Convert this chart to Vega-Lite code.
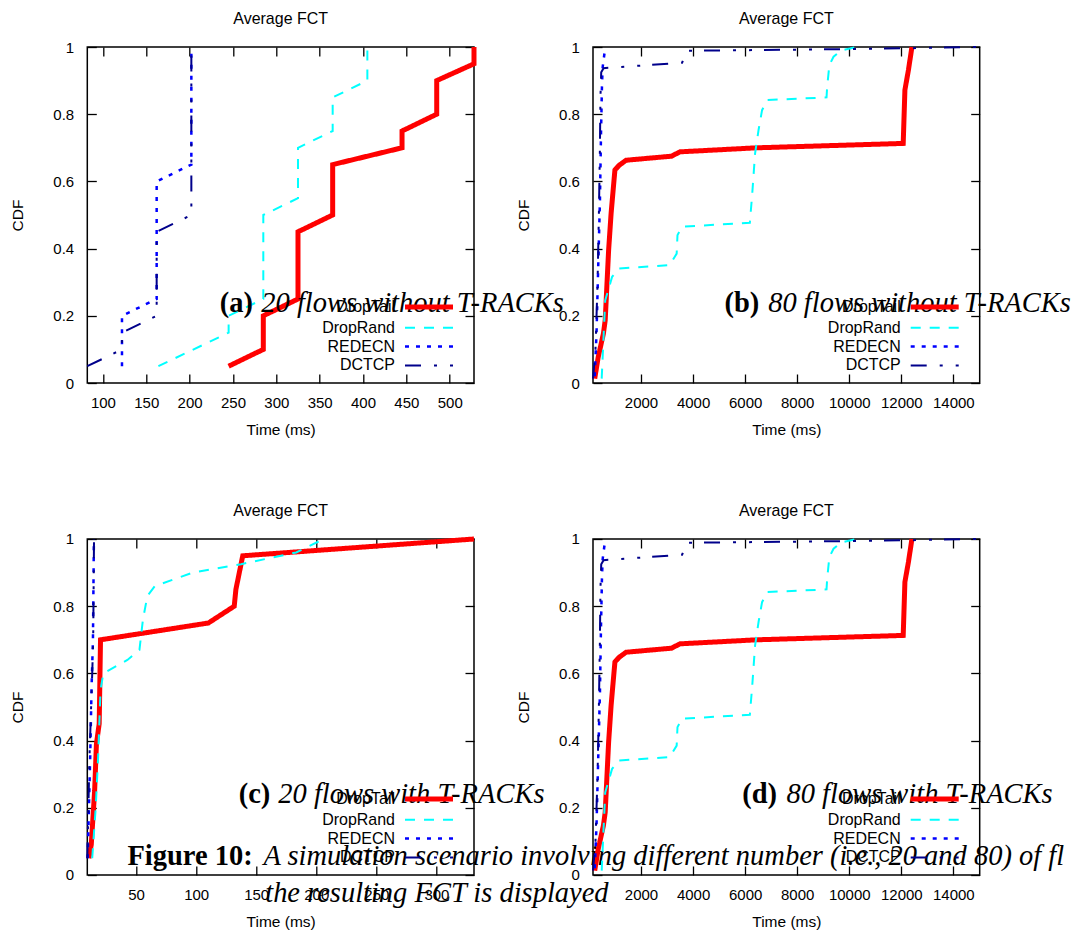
{
  "$schema": "https://vega.github.io/schema/vega-lite/v6.json",
  "padding": {"left": 9.3, "top": 10, "right": 0, "bottom": 0},
  "config": {
    "font": "Liberation Sans",
    "view": {"stroke": "#000", "strokeWidth": 1.5},
    "axis": {"domain": false, "grid": false, "tickColor": "#000", "tickWidth": 1.3, "tickSize": -9, "labelColor": "#000", "labelFont": "Liberation Sans", "labelFontSize": 15, "labelFlush": false, "labelOverlap": false, "titleFont": "Liberation Sans", "titleFontSize": 15.5, "titleFontWeight": "normal", "titleColor": "#000"},
    "axisBottom": {"labelPadding": 21.6, "titlePadding": 12},
    "axisLeft": {"labelPadding": 22.6, "titlePadding": 27},
    "title": {"font": "Liberation Sans", "fontSize": 16, "fontWeight": "normal", "color": "#000", "anchor": "middle", "baseline": "alphabetic", "offset": 10},
    "legend": {"orient": "none", "legendX": 333.7, "legendY": 252, "symbolType": "M-4.3636,0H4.3636", "symbolSize": 121, "symbolOffset": 0, "labelAlign": "right", "labelOffset": -42, "labelFontSize": 16, "labelFont": "Liberation Sans", "labelColor": "#000", "rowPadding": 2.8, "padding": 0}
  },
  "datasets": {
    "a": [
      {"series": "DropTail", "x": 245, "y": 0.05}, {"series": "DropTail", "x": 285, "y": 0.1}, {"series": "DropTail", "x": 285, "y": 0.2}, {"series": "DropTail", "x": 325, "y": 0.25}, {"series": "DropTail", "x": 325, "y": 0.45}, {"series": "DropTail", "x": 365, "y": 0.5}, {"series": "DropTail", "x": 365, "y": 0.65}, {"series": "DropTail", "x": 445, "y": 0.7}, {"series": "DropTail", "x": 445, "y": 0.75}, {"series": "DropTail", "x": 485, "y": 0.8}, {"series": "DropTail", "x": 485, "y": 0.9}, {"series": "DropTail", "x": 528, "y": 0.95}, {"series": "DropTail", "x": 528, "y": 1},
      {"series": "DropRand", "x": 164, "y": 0.05}, {"series": "DropRand", "x": 245, "y": 0.15}, {"series": "DropRand", "x": 245, "y": 0.2}, {"series": "DropRand", "x": 285, "y": 0.25}, {"series": "DropRand", "x": 285, "y": 0.5}, {"series": "DropRand", "x": 325, "y": 0.55}, {"series": "DropRand", "x": 325, "y": 0.7}, {"series": "DropRand", "x": 365, "y": 0.75}, {"series": "DropRand", "x": 365, "y": 0.85}, {"series": "DropRand", "x": 405, "y": 0.9}, {"series": "DropRand", "x": 405, "y": 1},
      {"series": "REDECN", "x": 122, "y": 0.05}, {"series": "REDECN", "x": 122, "y": 0.2}, {"series": "REDECN", "x": 162, "y": 0.25}, {"series": "REDECN", "x": 162, "y": 0.6}, {"series": "REDECN", "x": 202, "y": 0.65}, {"series": "REDECN", "x": 202, "y": 1},
      {"series": "DCTCP", "x": 82, "y": 0.05}, {"series": "DCTCP", "x": 122, "y": 0.1}, {"series": "DCTCP", "x": 122, "y": 0.15}, {"series": "DCTCP", "x": 162, "y": 0.2}, {"series": "DCTCP", "x": 162, "y": 0.45}, {"series": "DCTCP", "x": 202, "y": 0.5}, {"series": "DCTCP", "x": 202, "y": 1}
    ],
    "b": [
      {"series": "DropTail", "x": 220, "y": 0.013}, {"series": "DropTail", "x": 354, "y": 0.077}, {"series": "DropTail", "x": 554, "y": 0.147}, {"series": "DropTail", "x": 623, "y": 0.187}, {"series": "DropTail", "x": 754, "y": 0.395}, {"series": "DropTail", "x": 850, "y": 0.505}, {"series": "DropTail", "x": 996, "y": 0.634}, {"series": "DropTail", "x": 1158, "y": 0.648}, {"series": "DropTail", "x": 1427, "y": 0.663}, {"series": "DropTail", "x": 3165, "y": 0.675}, {"series": "DropTail", "x": 3500, "y": 0.688}, {"series": "DropTail", "x": 6446, "y": 0.7}, {"series": "DropTail", "x": 12073, "y": 0.713}, {"series": "DropTail", "x": 12138, "y": 0.872}, {"series": "DropTail", "x": 12273, "y": 0.931}, {"series": "DropTail", "x": 12408, "y": 1},
      {"series": "DropRand", "x": 488, "y": 0.013}, {"series": "DropRand", "x": 623, "y": 0.246}, {"series": "DropRand", "x": 889, "y": 0.316}, {"series": "DropRand", "x": 1158, "y": 0.341}, {"series": "DropRand", "x": 3100, "y": 0.351}, {"series": "DropRand", "x": 3369, "y": 0.385}, {"series": "DropRand", "x": 3400, "y": 0.44}, {"series": "DropRand", "x": 3569, "y": 0.465}, {"series": "DropRand", "x": 6181, "y": 0.477}, {"series": "DropRand", "x": 6273, "y": 0.564}, {"series": "DropRand", "x": 6381, "y": 0.683}, {"series": "DropRand", "x": 6515, "y": 0.753}, {"series": "DropRand", "x": 6650, "y": 0.812}, {"series": "DropRand", "x": 6850, "y": 0.842}, {"series": "DropRand", "x": 9127, "y": 0.85}, {"series": "DropRand", "x": 9150, "y": 0.88}, {"series": "DropRand", "x": 9235, "y": 0.946}, {"series": "DropRand", "x": 9396, "y": 0.971}, {"series": "DropRand", "x": 9700, "y": 0.99}, {"series": "DropRand", "x": 10300, "y": 1},
      {"series": "REDECN", "x": 220, "y": 0.02}, {"series": "REDECN", "x": 289, "y": 0.147}, {"series": "REDECN", "x": 354, "y": 0.346}, {"series": "REDECN", "x": 421, "y": 0.544}, {"series": "REDECN", "x": 462, "y": 0.743}, {"series": "REDECN", "x": 500, "y": 0.89}, {"series": "REDECN", "x": 527, "y": 0.941}, {"series": "REDECN", "x": 627, "y": 1},
      {"series": "DCTCP", "x": 154, "y": 0.013}, {"series": "DCTCP", "x": 250, "y": 0.1}, {"series": "DCTCP", "x": 330, "y": 0.3}, {"series": "DCTCP", "x": 380, "y": 0.5}, {"series": "DCTCP", "x": 420, "y": 0.7}, {"series": "DCTCP", "x": 440, "y": 0.85}, {"series": "DCTCP", "x": 470, "y": 0.925}, {"series": "DCTCP", "x": 560, "y": 0.937}, {"series": "DCTCP", "x": 3577, "y": 0.953}, {"series": "DCTCP", "x": 3769, "y": 0.989}, {"series": "DCTCP", "x": 8000, "y": 0.992}, {"series": "DCTCP", "x": 12000, "y": 0.996}, {"series": "DCTCP", "x": 15012, "y": 1}
    ],
    "c": [
      {"series": "DropTail", "x": 10.7, "y": 0.05}, {"series": "DropTail", "x": 12.7, "y": 0.09}, {"series": "DropTail", "x": 15.5, "y": 0.25}, {"series": "DropTail", "x": 17, "y": 0.39}, {"series": "DropTail", "x": 19.3, "y": 0.45}, {"series": "DropTail", "x": 20.4, "y": 0.7}, {"series": "DropTail", "x": 110.2, "y": 0.75}, {"series": "DropTail", "x": 131.7, "y": 0.8}, {"series": "DropTail", "x": 133.1, "y": 0.85}, {"series": "DropTail", "x": 138.8, "y": 0.95}, {"series": "DropTail", "x": 331.3, "y": 1},
      {"series": "DropRand", "x": 13.5, "y": 0.05}, {"series": "DropRand", "x": 16.4, "y": 0.2}, {"series": "DropRand", "x": 18.4, "y": 0.35}, {"series": "DropRand", "x": 20.4, "y": 0.55}, {"series": "DropRand", "x": 22.7, "y": 0.6}, {"series": "DropRand", "x": 42.8, "y": 0.64}, {"series": "DropRand", "x": 52.8, "y": 0.67}, {"series": "DropRand", "x": 55.7, "y": 0.76}, {"series": "DropRand", "x": 59.4, "y": 0.83}, {"series": "DropRand", "x": 65.7, "y": 0.86}, {"series": "DropRand", "x": 97.3, "y": 0.9}, {"series": "DropRand", "x": 137.4, "y": 0.925}, {"series": "DropRand", "x": 183.3, "y": 0.96}, {"series": "DropRand", "x": 206.2, "y": 1},
      {"series": "REDECN", "x": 9.7, "y": 0.05}, {"series": "REDECN", "x": 11.8, "y": 0.35}, {"series": "REDECN", "x": 12.9, "y": 0.55}, {"series": "REDECN", "x": 14.1, "y": 0.7}, {"series": "REDECN", "x": 14.9, "y": 1},
      {"series": "DCTCP", "x": 9.4, "y": 0.05}, {"series": "DCTCP", "x": 11.2, "y": 0.35}, {"series": "DCTCP", "x": 13.5, "y": 0.6}, {"series": "DCTCP", "x": 14.3, "y": 0.7}, {"series": "DCTCP", "x": 15, "y": 1}
    ]
  },
  "columns": 2,
  "spacing": {"row": 156, "column": 118.7},
  "bounds": "flush",
  "resolve": {
    "scale": {"x": "independent", "y": "independent"},
    "legend": {"color": "independent", "strokeDash": "independent", "strokeWidth": "independent"}
  },
  "concat": [
    {
      "width": 386.7, "height": 336, "title": "Average FCT",
      "resolve": {"axis": {"x": "independent", "y": "independent"}},
      "layer": [
        {"data": {"name": "a"}, "mark": {"type": "line", "clip": false},
         "encoding": {
           "x": {"field": "x", "type": "quantitative", "scale": {"domain": [82, 528], "nice": false, "zero": false}, "axis": {"orient": "bottom", "title": "Time (ms)", "values": [100, 150, 200, 250, 300, 350, 400, 450, 500], "format": "d"}},
           "y": {"field": "y", "type": "quantitative", "scale": {"domain": [0, 1], "nice": false}, "axis": {"orient": "left", "title": "CDF", "values": [0, 0.2, 0.4, 0.6, 0.8, 1], "format": "~g"}},
           "color": {"field": "series", "type": "nominal", "title": null, "scale": {"domain": ["DropTail", "DropRand", "REDECN", "DCTCP"], "range": ["#ff0000", "#00ffff", "#0000ff", "#00008b"]}},
           "strokeDash": {"field": "series", "type": "nominal", "title": null, "scale": {"domain": ["DropTail", "DropRand", "REDECN", "DCTCP"], "range": [[1, 0], [10, 9], [4, 7], [16, 13, 3, 13, 3, 12]]}},
           "strokeWidth": {"field": "series", "type": "nominal", "title": null, "scale": {"type": "ordinal", "domain": ["DropTail", "DropRand", "REDECN", "DCTCP"], "range": [5, 2, 2.5, 2]}},
           "order": {"field": "y", "type": "quantitative"}
         }},
        {"data": {"name": "a"}, "mark": {"type": "point", "opacity": 0},
         "encoding": {
           "x": {"field": "x", "type": "quantitative", "axis": {"orient": "top", "labels": false, "title": null, "values": [100, 150, 200, 250, 300, 350, 400, 450, 500]}},
           "y": {"field": "y", "type": "quantitative", "axis": {"orient": "right", "labels": false, "title": null, "values": [0, 0.2, 0.4, 0.6, 0.8, 1]}}
         }},
        {"data": {"values": [{}]}, "mark": {"type": "text", "text": "(a)", "font": "Liberation Serif", "fontSize": 28.5, "fontWeight": "bold", "align": "left", "baseline": "alphabetic", "color": "#000"},
         "encoding": {"x": {"datum": 234.7, "type": "quantitative", "axis": null}, "y": {"datum": 0.2115, "type": "quantitative", "axis": null}}},
        {"data": {"values": [{}]}, "mark": {"type": "text", "text": "20 flows without T-RACKs", "font": "Liberation Serif", "fontSize": 28.5, "fontStyle": "italic", "align": "left", "baseline": "alphabetic", "color": "#000"},
         "encoding": {"x": {"datum": 282.7, "type": "quantitative", "axis": null}, "y": {"datum": 0.2115, "type": "quantitative", "axis": null}}}
      ]
    },
    {
      "width": 386.7, "height": 336, "title": "Average FCT",
      "resolve": {"axis": {"x": "independent", "y": "independent"}},
      "layer": [
        {"data": {"name": "b"}, "mark": {"type": "line", "clip": false},
         "encoding": {
           "x": {"field": "x", "type": "quantitative", "scale": {"domain": [154, 15012], "nice": false, "zero": false}, "axis": {"orient": "bottom", "title": "Time (ms)", "values": [2000, 4000, 6000, 8000, 10000, 12000, 14000], "format": "d"}},
           "y": {"field": "y", "type": "quantitative", "scale": {"domain": [0, 1], "nice": false}, "axis": {"orient": "left", "title": "CDF", "values": [0, 0.2, 0.4, 0.6, 0.8, 1], "format": "~g"}},
           "color": {"field": "series", "type": "nominal", "title": null, "scale": {"domain": ["DropTail", "DropRand", "REDECN", "DCTCP"], "range": ["#ff0000", "#00ffff", "#0000ff", "#00008b"]}},
           "strokeDash": {"field": "series", "type": "nominal", "title": null, "scale": {"domain": ["DropTail", "DropRand", "REDECN", "DCTCP"], "range": [[1, 0], [10, 9], [4, 7], [16, 13, 3, 13, 3, 12]]}},
           "strokeWidth": {"field": "series", "type": "nominal", "title": null, "scale": {"type": "ordinal", "domain": ["DropTail", "DropRand", "REDECN", "DCTCP"], "range": [5, 2, 2.5, 2]}},
           "order": {"field": "y", "type": "quantitative"}
         }},
        {"data": {"name": "b"}, "mark": {"type": "point", "opacity": 0},
         "encoding": {
           "x": {"field": "x", "type": "quantitative", "axis": {"orient": "top", "labels": false, "title": null, "values": [2000, 4000, 6000, 8000, 10000, 12000, 14000]}},
           "y": {"field": "y", "type": "quantitative", "axis": {"orient": "right", "labels": false, "title": null, "values": [0, 0.2, 0.4, 0.6, 0.8, 1]}}
         }},
        {"data": {"values": [{}]}, "mark": {"type": "text", "text": "(b)", "font": "Liberation Serif", "fontSize": 28.5, "fontWeight": "bold", "align": "left", "baseline": "alphabetic", "color": "#000"},
         "encoding": {"x": {"datum": 5204, "type": "quantitative", "axis": null}, "y": {"datum": 0.2115, "type": "quantitative", "axis": null}}},
        {"data": {"values": [{}]}, "mark": {"type": "text", "text": "80 flows without T-RACKs", "font": "Liberation Serif", "fontSize": 28.5, "fontStyle": "italic", "align": "left", "baseline": "alphabetic", "color": "#000"},
         "encoding": {"x": {"datum": 6888, "type": "quantitative", "axis": null}, "y": {"datum": 0.2115, "type": "quantitative", "axis": null}}}
      ]
    },
    {
      "width": 386.7, "height": 336, "title": "Average FCT",
      "resolve": {"axis": {"x": "independent", "y": "independent"}},
      "layer": [
        {"data": {"name": "c"}, "mark": {"type": "line", "clip": false},
         "encoding": {
           "x": {"field": "x", "type": "quantitative", "scale": {"domain": [9.4, 331.3], "nice": false, "zero": false}, "axis": {"orient": "bottom", "title": "Time (ms)", "values": [50, 100, 150, 200, 250, 300], "format": "d"}},
           "y": {"field": "y", "type": "quantitative", "scale": {"domain": [0, 1], "nice": false}, "axis": {"orient": "left", "title": "CDF", "values": [0, 0.2, 0.4, 0.6, 0.8, 1], "format": "~g"}},
           "color": {"field": "series", "type": "nominal", "title": null, "scale": {"domain": ["DropTail", "DropRand", "REDECN", "DCTCP"], "range": ["#ff0000", "#00ffff", "#0000ff", "#00008b"]}},
           "strokeDash": {"field": "series", "type": "nominal", "title": null, "scale": {"domain": ["DropTail", "DropRand", "REDECN", "DCTCP"], "range": [[1, 0], [10, 9], [4, 7], [16, 13, 3, 13, 3, 12]]}},
           "strokeWidth": {"field": "series", "type": "nominal", "title": null, "scale": {"type": "ordinal", "domain": ["DropTail", "DropRand", "REDECN", "DCTCP"], "range": [5, 2, 2.5, 2]}},
           "order": {"field": "y", "type": "quantitative"}
         }},
        {"data": {"name": "c"}, "mark": {"type": "point", "opacity": 0},
         "encoding": {
           "x": {"field": "x", "type": "quantitative", "axis": {"orient": "top", "labels": false, "title": null, "values": [50, 100, 150, 200, 250, 300]}},
           "y": {"field": "y", "type": "quantitative", "axis": {"orient": "right", "labels": false, "title": null, "values": [0, 0.2, 0.4, 0.6, 0.8, 1]}}
         }},
        {"data": {"values": [{}]}, "mark": {"type": "text", "text": "(c)", "font": "Liberation Serif", "fontSize": 28.5, "fontWeight": "bold", "align": "left", "baseline": "alphabetic", "color": "#000"},
         "encoding": {"x": {"datum": 135.4, "type": "quantitative", "axis": null}, "y": {"datum": 0.215, "type": "quantitative", "axis": null}}},
        {"data": {"values": [{}]}, "mark": {"type": "text", "text": "20 flows with T-RACKs", "font": "Liberation Serif", "fontSize": 28.5, "fontStyle": "italic", "align": "left", "baseline": "alphabetic", "color": "#000"},
         "encoding": {"x": {"datum": 168.4, "type": "quantitative", "axis": null}, "y": {"datum": 0.215, "type": "quantitative", "axis": null}}},
        {"data": {"values": [{}]}, "mark": {"type": "text", "text": "Figure 10:", "font": "Liberation Serif", "fontSize": 28.5, "fontWeight": "bold", "align": "left", "baseline": "alphabetic", "color": "#000"},
         "encoding": {"x": {"datum": 42.8, "type": "quantitative", "axis": null}, "y": {"datum": 0.0303, "type": "quantitative", "axis": null}}},
        {"data": {"values": [{}]}, "mark": {"type": "text", "text": "A simulation scenario involving different number (i.e., 20 and 80) of flows and", "font": "Liberation Serif", "fontSize": 28.5, "fontStyle": "italic", "align": "left", "baseline": "alphabetic", "color": "#000", "limit": 812, "ellipsis": "\u200b"},
         "encoding": {"x": {"datum": 156.1, "type": "quantitative", "axis": null}, "y": {"datum": 0.0303, "type": "quantitative", "axis": null}}},
        {"data": {"values": [{}]}, "mark": {"type": "text", "text": "the resulting FCT is displayed", "font": "Liberation Serif", "fontSize": 28.5, "fontStyle": "italic", "align": "left", "baseline": "alphabetic", "color": "#000"},
         "encoding": {"x": {"datum": 157.5, "type": "quantitative", "axis": null}, "y": {"datum": -0.0796, "type": "quantitative", "axis": null}}}
      ]
    },
    {
      "width": 386.7, "height": 336, "title": "Average FCT",
      "resolve": {"axis": {"x": "independent", "y": "independent"}},
      "layer": [
        {"data": {"name": "b"}, "mark": {"type": "line", "clip": false},
         "encoding": {
           "x": {"field": "x", "type": "quantitative", "scale": {"domain": [154, 15012], "nice": false, "zero": false}, "axis": {"orient": "bottom", "title": "Time (ms)", "values": [2000, 4000, 6000, 8000, 10000, 12000, 14000], "format": "d"}},
           "y": {"field": "y", "type": "quantitative", "scale": {"domain": [0, 1], "nice": false}, "axis": {"orient": "left", "title": "CDF", "values": [0, 0.2, 0.4, 0.6, 0.8, 1], "format": "~g"}},
           "color": {"field": "series", "type": "nominal", "title": null, "scale": {"domain": ["DropTail", "DropRand", "REDECN", "DCTCP"], "range": ["#ff0000", "#00ffff", "#0000ff", "#00008b"]}},
           "strokeDash": {"field": "series", "type": "nominal", "title": null, "scale": {"domain": ["DropTail", "DropRand", "REDECN", "DCTCP"], "range": [[1, 0], [10, 9], [4, 7], [16, 13, 3, 13, 3, 12]]}},
           "strokeWidth": {"field": "series", "type": "nominal", "title": null, "scale": {"type": "ordinal", "domain": ["DropTail", "DropRand", "REDECN", "DCTCP"], "range": [5, 2, 2.5, 2]}},
           "order": {"field": "y", "type": "quantitative"}
         }},
        {"data": {"name": "b"}, "mark": {"type": "point", "opacity": 0},
         "encoding": {
           "x": {"field": "x", "type": "quantitative", "axis": {"orient": "top", "labels": false, "title": null, "values": [2000, 4000, 6000, 8000, 10000, 12000, 14000]}},
           "y": {"field": "y", "type": "quantitative", "axis": {"orient": "right", "labels": false, "title": null, "values": [0, 0.2, 0.4, 0.6, 0.8, 1]}}
         }},
        {"data": {"values": [{}]}, "mark": {"type": "text", "text": "(d)", "font": "Liberation Serif", "fontSize": 28.5, "fontWeight": "bold", "align": "left", "baseline": "alphabetic", "color": "#000"},
         "encoding": {"x": {"datum": 5885, "type": "quantitative", "axis": null}, "y": {"datum": 0.215, "type": "quantitative", "axis": null}}},
        {"data": {"values": [{}]}, "mark": {"type": "text", "text": "80 flows with T-RACKs", "font": "Liberation Serif", "fontSize": 28.5, "fontStyle": "italic", "align": "left", "baseline": "alphabetic", "color": "#000"},
         "encoding": {"x": {"datum": 7588, "type": "quantitative", "axis": null}, "y": {"datum": 0.215, "type": "quantitative", "axis": null}}}
      ]
    }
  ]
}
